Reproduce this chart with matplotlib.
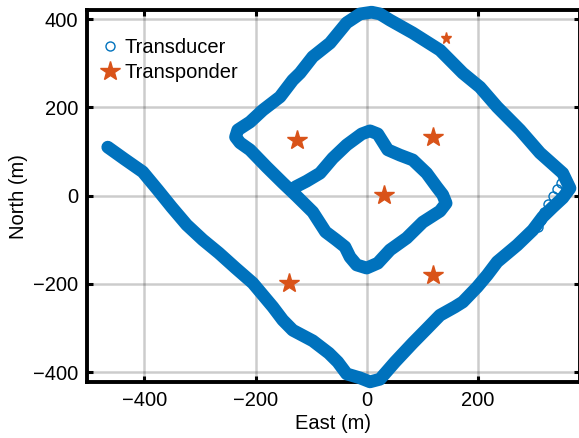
import numpy as np
import matplotlib
matplotlib.use('Agg')
import matplotlib.pyplot as plt

plt.rcParams['font.family'] = ['Liberation Sans', 'DejaVu Sans']

##### transducer track (east, north in m)
track_east = [-466, -436, -403, -376, -351, -324, -295, -266, -236, -205,
              -187, -169, -151, -133, -97, -68, -52, -36, -12, 6,
              24, 51, 83, 108, 132, 159, 173, 199, 217, 235,
              271, 299, 317, 335, 353, 366, 353, 312, 276, 235,
              204, 173, 132, 83, 42, 24, 9, -12, -36, -66,
              -97, -120, -133, -156, -187, -210, -232, -236, -228, -210,
              -180, -151, -126, -97, -74, -55, -39, -30, -18, 0,
              20, 42, 72, 101, 132, 143, 137, 126, 108, 83,
              60, 38, 29, 20, 6, -9, -36, -61, -84, -108, -128]
track_north = [110, 83, 54, 13, -26, -66, -100, -130, -164, -198,
               -225, -252, -282, -305, -329, -357, -377, -404, -413, -422,
               -416, -377, -334, -302, -271, -252, -241, -207, -180, -150,
               -112, -78, -48, -26, -5, 17, 51, 97, 149, 201,
               246, 278, 330, 369, 398, 412, 416, 412, 392, 346,
               315, 278, 262, 224, 194, 167, 149, 133, 120, 104,
               65, 29, -1, -37, -82, -100, -116, -139, -157, -164,
               -153, -123, -96, -60, -35, -17, 2, 20, 51, 81,
               92, 104, 122, 140, 147, 140, 115, 85, 51, 33, 20]

# loose fixes near the east corner
loose_east = [349, 342, 335, 326, 319, 313, 309]
loose_north = [29, 15, 0, -18, -38, -56, -72]

##### transponder positions
tp_east = [-125, 120, 31, -140, 120]
tp_north = [126, 134, 2, -199, -180]
ref_east = [143]
ref_north = [357]

blue = '#0072BD'
orange = '#D95319'

fig = plt.figure(figsize=(5.79, 4.38), dpi=100)
ax = fig.add_axes([0.1497, 0.1272, 0.8520, 0.8500])

ax.plot(track_east, track_north, color=blue, lw=9.2, solid_capstyle='round',
        solid_joinstyle='round', zorder=3, clip_on=False)
ax.plot(loose_east, loose_north, 'o', ms=6.5, mfc='none', mec=blue, mew=1.0,
        zorder=3.5, label='Transducer')
ax.plot(tp_east, tp_north, '*', ms=14.5, color=orange, zorder=4,
        label='Transponder')
ax.plot(ref_east, ref_north, '*', ms=8.3, color=orange, zorder=4)

ax.set_xlim(-504, 384)
ax.set_ylim(-423, 421)
ax.set_xticks([-400, -200, 0, 200])
ax.set_yticks([-400, -200, 0, 200, 400])

ax.grid(True, color='k', alpha=0.2, lw=1.8)
ax.set_axisbelow(True)
for s in ax.spines.values():
    s.set_linewidth(2.8)
ax.tick_params(direction='in', length=4.5, width=2.2, labelsize=14.5,
               top=True, right=True, pad=6)

ax.set_xlabel('East (m)', fontsize=14.5, labelpad=3)
ax.set_ylabel('North (m)', fontsize=14.5, labelpad=4)

ax.legend(loc='upper left', bbox_to_anchor=(0.03, 0.925), frameon=False,
          fontsize=14.5, borderaxespad=0, borderpad=0, handlelength=0.8,
          handletextpad=0.32, labelspacing=0.32)

fig.savefig('out.png', dpi=100)
